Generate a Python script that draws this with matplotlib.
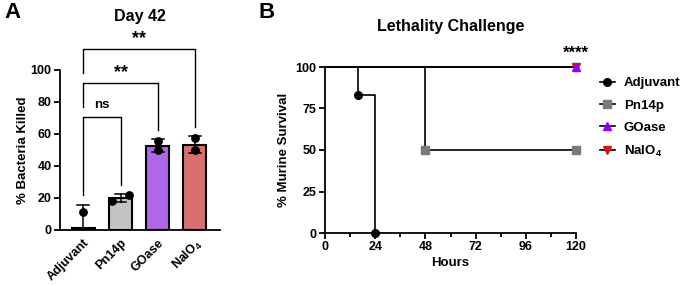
"""Figura com dois painéis: A (barras, % de bactérias mortas) e B (curva de sobrevivência)."""

import matplotlib

matplotlib.use("Agg")

import matplotlib.pyplot as plt  # noqa: E402
from matplotlib.ticker import MultipleLocator  # noqa: E402

# --- dados do painel A ---
GRUPOS = ["Adjuvant", "Pn14p", "GOase", "NaIO$_4$"]
MEDIAS = [1.0, 19.8, 52.7, 53.1]
ERRO_SUP = [15.8, 22.7, 56.7, 58.7]
ERRO_INF = [1.0, 17.7, 48.9, 48.3]
PONTOS = [[11.5, -9.5], [18.1, 21.9], [55.6, 50.0], [57.3, 50.0]]
DESLOC_PONTOS = [[0.0, 0.0], [-0.23, 0.23], [0.0, 0.0], [0.0, 0.0]]
CORES_BARRAS = ["#ffffff", "#c3c3c3", "#b066e8", "#d87070"]

# --- dados do painel B ---
HORAS = {
    "Adjuvant": [0, 16, 24],
    "Pn14p": [0, 48, 120],
    "NaIO$_4$": [0, 120],
    "GOase": [0, 120],
}
SOBREVIVENCIA = {
    "Adjuvant": [100, 83.3, 0],
    "Pn14p": [100, 50, 50],
    "NaIO$_4$": [100, 100],
    "GOase": [100, 100],
}
EVENTOS = {  # índices dos pontos com marcador
    "Adjuvant": [1, 2],
    "Pn14p": [1, 2],
    "NaIO$_4$": [1],
    "GOase": [1],
}
MARCADORES = {"Adjuvant": "o", "Pn14p": "s", "GOase": "^", "NaIO$_4$": "v"}
CORES_MARC = {"Adjuvant": "black", "Pn14p": "#7a7a7a", "GOase": "#8f00ff", "NaIO$_4$": "#e01010"}
ORDEM_LEGENDA = ["Adjuvant", "Pn14p", "GOase", "NaIO$_4$"]

plt.rcParams["font.family"] = ["Liberation Sans", "DejaVu Sans"]
plt.rcParams["font.weight"] = "bold"
plt.rcParams["axes.labelweight"] = "bold"
plt.rcParams["mathtext.fontset"] = "custom"
plt.rcParams["mathtext.rm"] = "Liberation Sans:bold"
plt.rcParams["mathtext.bf"] = "Liberation Sans:bold"
plt.rcParams["mathtext.default"] = "bf"

LW = 1.3


def _estilo(ax):
    ax.spines["top"].set_visible(False)
    ax.spines["right"].set_visible(False)
    for s in ("left", "bottom"):
        ax.spines[s].set_linewidth(LW)
    ax.tick_params(width=LW, length=4, labelsize=9, pad=2)
    ax.tick_params(which="minor", width=LW, length=3)


def _colchete(ax, x1, x2, y, y1, y2, rotulo, y_rot, tam=13):
    ax.plot([x1, x1, x2, x2], [y1, y, y, y2], color="black", lw=1.0, clip_on=False)
    ax.text((x1 + x2) / 2, y_rot, rotulo, ha="center", va="center", fontsize=tam, clip_on=False)


fig = plt.figure(figsize=(6.88, 2.86), dpi=100)

# --- painel A ---
ax_a = fig.add_axes([60 / 688, 1 - 230 / 286, 160 / 688, 160 / 286])
x = range(len(GRUPOS))
ax_a.bar(x, MEDIAS, width=0.62, color=CORES_BARRAS, edgecolor="black", linewidth=1.5, zorder=2)
for i in x:
    ax_a.plot([i, i], [ERRO_INF[i], ERRO_SUP[i]], color="black", lw=1.1, zorder=3)
    ax_a.plot([i - 0.16, i + 0.16], [ERRO_SUP[i]] * 2, color="black", lw=1.1, zorder=3)
    ax_a.plot([i - 0.16, i + 0.16], [ERRO_INF[i]] * 2, color="black", lw=1.1, zorder=3)
    ax_a.scatter([i + d for d in DESLOC_PONTOS[i]], PONTOS[i], s=28, color="black", zorder=4)
ax_a.set_xlim(-0.63, 3.68)
ax_a.set_ylim(0, 100)
ax_a.set_yticks([0, 20, 40, 60, 80, 100])
ax_a.set_xticks(list(x))
ax_a.set_xticklabels(GRUPOS, rotation=45, ha="right", rotation_mode="anchor")
ax_a.set_ylabel("% Bacteria Killed", fontsize=9.5, labelpad=1)
_estilo(ax_a)
ax_a.tick_params(axis="x", length=0, pad=5)

_colchete(ax_a, 0, 1, 70.6, 21.9, 28.1, "ns", 78, tam=9.5)
_colchete(ax_a, 0, 2, 91.7, 76.9, 62.5, "**", 98.5)
_colchete(ax_a, 0, 3, 113.1, 98.1, 64.4, "**", 119.5)

fig.text(140 / 688, 1 - 16 / 286, "Day 42", ha="center", va="center", fontsize=11.5)
fig.text(4 / 688, 1 - 12 / 286, "A", ha="left", va="center", fontsize=16)

# --- painel B ---
ax_b = fig.add_axes([325 / 688, 1 - 233 / 286, 251 / 688, 166 / 286])
handles = {}
for nome in ["Adjuvant", "Pn14p", "NaIO$_4$", "GOase"]:
    h, s = HORAS[nome], SOBREVIVENCIA[nome]
    ax_b.step(h, s, where="post", color="black", lw=1.2, clip_on=False, zorder=2)
    idx = EVENTOS[nome]
    ax_b.plot([h[k] for k in idx], [s[k] for k in idx], ls="none", marker=MARCADORES[nome],
              ms=5.5, color=CORES_MARC[nome], clip_on=False, zorder=3)
    (handles[nome],) = ax_b.plot([], [], color="black", lw=1.2, marker=MARCADORES[nome],
                                 ms=5.5, mfc=CORES_MARC[nome], mec=CORES_MARC[nome])
ax_b.set_xlim(0, 120)
ax_b.set_ylim(0, 100)
ax_b.xaxis.set_major_locator(MultipleLocator(24))
ax_b.xaxis.set_minor_locator(MultipleLocator(12))
ax_b.set_yticks([0, 25, 50, 75, 100])
ax_b.set_xlabel("Hours", fontsize=9.5, labelpad=3)
ax_b.set_ylabel("% Murine Survival", fontsize=9.5, labelpad=4)
_estilo(ax_b)
ax_b.text(120, 108.5, "****", ha="center", va="center", fontsize=12)
ax_b.legend([handles[n] for n in ORDEM_LEGENDA], ORDEM_LEGENDA, loc="upper left",
            bbox_to_anchor=(1.075, 0.97), frameon=False, fontsize=9.5, handlelength=1.1,
            labelspacing=0.75, handletextpad=0.7, borderaxespad=0)

fig.text(451 / 688, 1 - 26 / 286, "Lethality Challenge", ha="center", va="center", fontsize=11.5)
fig.text(259 / 688, 1 - 12 / 286, "B", ha="left", va="center", fontsize=16)

fig.savefig("out.png", dpi=100)
plt.close(fig)
